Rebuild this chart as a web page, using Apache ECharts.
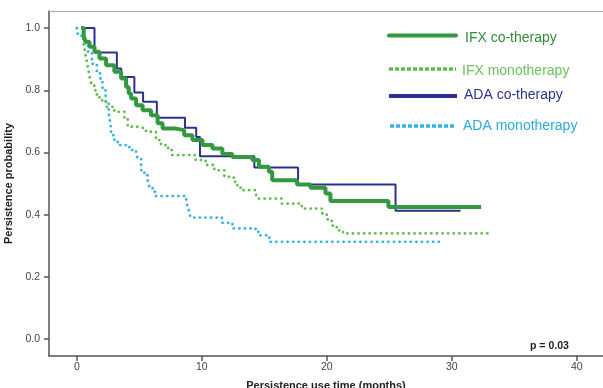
<!DOCTYPE html>
<html>
<head>
<meta charset="utf-8">
<script src="https://cdn.jsdelivr.net/npm/echarts@6/dist/echarts.min.js"></script>
<style>html,body{margin:0;padding:0;background:#fff;}#c{width:603px;height:388px;}</style>
</head>
<body>
<div id="c"></div>
<script>
// Kaplan-Meier step data: [time (months), persistence probability]
const ifxCo = [[0.35,1.0],[0.55,0.975],[0.69,0.956],[1.01,0.94],[1.41,0.924],[1.81,0.902],[2.34,0.881],[3.0,0.86],[3.54,0.838],[3.94,0.811],[4.15,0.79],[4.34,0.774],[4.74,0.752],[5.26,0.736],[5.93,0.72],[6.46,0.694],[6.86,0.677],[7.93,0.672],[8.59,0.656],[9.25,0.64],[10.05,0.624],[10.85,0.613],[11.64,0.595],[12.44,0.586],[14.04,0.576],[14.57,0.554],[15.37,0.538],[15.63,0.511],[17.62,0.497],[18.69,0.487],[19.89,0.468],[20.29,0.444],[24.93,0.425],[32.35,0.425]];
const ifxMono = [[0,1.0],[0.5,0.96],[0.61,0.935],[0.7,0.912],[0.8,0.892],[0.95,0.858],[1.05,0.837],[1.2,0.816],[1.4,0.8],[1.6,0.785],[1.81,0.768],[2.34,0.747],[3.0,0.731],[3.8,0.709],[4.07,0.683],[4.86,0.677],[5.53,0.667],[6.33,0.64],[6.73,0.624],[7.3,0.608],[7.6,0.592],[9.5,0.576],[10.3,0.56],[11.0,0.543],[11.8,0.522],[12.55,0.506],[12.84,0.492],[13.1,0.479],[14.3,0.47],[14.43,0.452],[16.4,0.436],[18.0,0.42],[19.6,0.404],[20.0,0.385],[20.4,0.365],[20.8,0.35],[21.3,0.34],[33.0,0.34]];
const adaCo = [[0.45,1.0],[1.41,0.922],[3.2,0.87],[3.55,0.843],[4.6,0.793],[5.3,0.763],[6.4,0.712],[8.65,0.68],[9.55,0.65],[9.85,0.588],[14.2,0.552],[17.7,0.497],[25.5,0.413],[30.7,0.413]];
const adaMono = [[0,1.0],[0.1,0.975],[0.6,0.95],[0.9,0.92],[1.2,0.885],[1.6,0.86],[1.85,0.838],[2.05,0.8],[2.3,0.758],[2.55,0.726],[2.7,0.688],[2.75,0.656],[3.0,0.64],[3.27,0.624],[4.2,0.608],[4.74,0.597],[4.86,0.581],[5.14,0.543],[5.4,0.527],[5.66,0.511],[5.8,0.49],[6.06,0.474],[6.28,0.46],[8.75,0.44],[8.9,0.425],[9.0,0.406],[9.1,0.391],[11.6,0.374],[12.45,0.356],[14.3,0.345],[14.6,0.334],[15.4,0.313],[29.3,0.313]];
const xTicks = [0,10,20,30,40];
const yTicks = [0,0.2,0.4,0.6,0.8,1.0];
const seriesNames = ['IFX co-therapy','IFX monotherapy','ADA co-therapy','ADA monotherapy'];
const pText = 'p = 0.03';
const xTitle = 'Persistence use time (months)';
const yTitle = 'Persistence probability';

const C = {ifxCo:'#33983f', ifxMono:'#62bd4f', adaCo:'#2c3190', adaMono:'#36b3e6'};
const chart = echarts.init(document.getElementById('c'), null, {renderer:'canvas'});
const axisColor = '#555';
const font = 'Liberation Sans, Arial, sans-serif';
chart.setOption({
  animation:false,
  backgroundColor:'#fff',
  grid:{left:49, right:0, top:11, bottom:32, containLabel:false, outerBoundsMode:'none'},
  xAxis:[{
    type:'value', min:-2.23, max:42.1,
    axisLine:{show:true, onZero:false, lineStyle:{color:axisColor, width:1.5}},
    axisTick:{show:true, customValues:xTicks, length:5, lineStyle:{color:axisColor, width:1.5}},
    axisLabel:{customValues:xTicks, color:'#444', fontSize:10.5, fontFamily:font, margin:6},
    splitLine:{show:false},
    name:xTitle, nameLocation:'middle', nameGap:24,
    nameTextStyle:{fontWeight:'bold', fontSize:11, color:'#222', fontFamily:font}
  },{
    type:'value', position:'top', min:-2.23, max:42.1,
    axisLine:{show:true, onZero:false, lineStyle:{color:'#aaa', width:1}},
    axisTick:{show:false}, axisLabel:{show:false}, splitLine:{show:false}
  }],
  yAxis:{
    type:'value', min:-0.054, max:1.055,
    axisLine:{show:true, onZero:false, lineStyle:{color:axisColor, width:1.5}},
    axisTick:{show:true, customValues:yTicks, length:5, lineStyle:{color:axisColor, width:1.5}},
    axisLabel:{customValues:yTicks, color:'#444', fontSize:10.5, fontFamily:font, margin:9,
      formatter:v=>v.toFixed(1)},
    splitLine:{show:false},
    name:yTitle, nameLocation:'middle', nameGap:29, nameRotate:90,
    nameTextStyle:{fontWeight:'bold', fontSize:11, color:'#222', fontFamily:font}
  },
  series:[
    {name:seriesNames[3], type:'line', step:'end', data:adaMono, showSymbol:false, z:2,
      lineStyle:{color:C.adaMono, width:2.8, type:[0.1,5.5], cap:'round'}},
    {name:seriesNames[1], type:'line', step:'end', data:ifxMono, showSymbol:false, z:3,
      lineStyle:{color:C.ifxMono, width:2.8, type:[0.1,5.5], cap:'round'}},
    {name:seriesNames[2], type:'line', step:'end', data:adaCo, showSymbol:false, z:4,
      lineStyle:{color:C.adaCo, width:2}},
    {name:seriesNames[0], type:'line', step:'end', data:ifxCo, showSymbol:false, z:5,
      lineStyle:{color:C.ifxCo, width:4}}
  ],
  graphic:[
    {type:'line', shape:{x1:389,y1:35.5,x2:456,y2:35.5}, style:{stroke:C.ifxCo, lineWidth:4, lineCap:'round'}},
    {type:'text', x:465, y:38.5, style:{text:seriesNames[0], fill:'#2f8c3b', font:'14px '+font, textVerticalAlign:'middle'}},
    {type:'line', shape:{x1:389,y1:69,x2:456,y2:69}, style:{stroke:C.ifxMono, lineWidth:3.5, lineDash:[4,2]}},
    {type:'text', x:462, y:71, style:{text:seriesNames[1], fill:'#6cc35a', font:'14px '+font, textVerticalAlign:'middle'}},
    {type:'line', shape:{x1:389,y1:96,x2:457,y2:96}, style:{stroke:C.adaCo, lineWidth:4}},
    {type:'text', x:464, y:95.5, style:{text:seriesNames[2], fill:'#2e3390', font:'14px '+font, textVerticalAlign:'middle'}},
    {type:'line', shape:{x1:390,y1:126,x2:456,y2:126}, style:{stroke:C.adaMono, lineWidth:3.5, lineDash:[4,2]}},
    {type:'text', x:463, y:126, style:{text:seriesNames[3], fill:'#2ea9e0', font:'14px '+font, textVerticalAlign:'middle'}},
    {type:'text', x:530, y:346, style:{text:pText, fill:'#222', font:'bold 10.5px '+font, textVerticalAlign:'middle'}}
  ]
});
</script>
</body>
</html>
